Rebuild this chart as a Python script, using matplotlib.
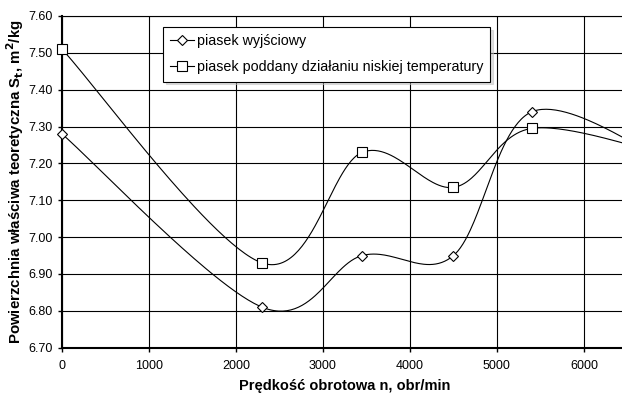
import numpy as np
import matplotlib.pyplot as plt

# obroty [obr/min] i powierzchnia wlasciwa [m2/kg]
speed = [0, 2300, 3450, 4500, 5400, 7000]
s_initial = [7.28, 6.81, 6.95, 6.95, 7.34, 7.20]
s_frozen = [7.51, 6.93, 7.23, 7.135, 7.295, 7.22]
labels = ['piasek wyjściowy', 'piasek poddany działaniu niskiej temperatury']


def smooth(x, y, n=60):
    """Excel-like smoothed line: cubic Bezier with Catmull-Rom control points."""
    p = np.column_stack([x, y]).astype(float)
    out = [p[:1]]
    t = np.linspace(0, 1, n)[1:, None]
    for i in range(len(p) - 1):
        p0 = p[max(i - 1, 0)]
        p1, p2 = p[i], p[i + 1]
        p3 = p[min(i + 2, len(p) - 1)]
        c1 = p1 + (p2 - p0) / 6
        c2 = p2 - (p3 - p1) / 6
        seg = ((1 - t) ** 3 * p1 + 3 * (1 - t) ** 2 * t * c1
               + 3 * (1 - t) * t ** 2 * c2 + t ** 3 * p2)
        out.append(seg)
    out = np.vstack(out)
    return out[:, 0], out[:, 1]


plt.rcParams['font.family'] = ['Liberation Sans', 'DejaVu Sans']
fig = plt.figure(figsize=(6.22, 3.94), dpi=100)
ax = fig.add_axes([0.0997, 0.1175, 0.909, 0.8419])

for ys, mk, ms, lab in [(s_initial, 'D', 5.5, labels[0]), (s_frozen, 's', 7, labels[1])]:
    sx, sy = smooth(speed, ys)
    ax.plot(sx, sy, color='black', lw=0.8, zorder=3)
    ax.plot(speed, ys, ls='none', marker=mk, ms=ms, mfc='white', mec='black',
            mew=0.8, zorder=4, clip_on=False)
    # wpis legendy
    ax.plot([], [], color='black', lw=0.8, marker=mk, ms=ms, mfc='white',
            mec='black', mew=0.8, label=lab)

ax.set_xlim(0, 6500)
ax.set_ylim(6.70, 7.60)
ax.set_xticks(range(0, 7000, 1000))
ax.set_yticks(np.arange(6.70, 7.61, 0.10))
ax.yaxis.set_major_formatter(plt.FormatStrFormatter('%.2f'))
ax.grid(True, color='black', lw=0.8)
ax.set_axisbelow(True)
ax.tick_params(labelsize=9, direction='out', length=3, width=1)
ax.tick_params(axis='x', pad=6)
ax.spines['right'].set_visible(False)
ax.spines['top'].set_linewidth(0.8)
ax.spines['left'].set_linewidth(1.5)
ax.spines['bottom'].set_linewidth(1.5)

ax.set_xlabel('Prędkość obrotowa n, obr/min', fontsize=10.5, fontweight='bold', labelpad=5)
ax.set_ylabel('Powierzchnia właściwa teoretyczna S$_\\mathbf{t}$, m$^\\mathbf{2}$/kg',
              fontsize=10.8, fontweight='bold', labelpad=2)

leg = fig.legend(loc='upper left', bbox_to_anchor=(0.262, 0.931), fontsize=10.3,
                 frameon=True, fancybox=False, shadow={'color': '0.75', 'ox': 2, 'oy': -2},
                 handlelength=1.65, borderpad=0.5, labelspacing=0.85,
                 handletextpad=0.2, borderaxespad=0)
leg.get_frame().set_edgecolor('black')
leg.get_frame().set_linewidth(0.8)

fig.savefig('out.png', dpi=100)
